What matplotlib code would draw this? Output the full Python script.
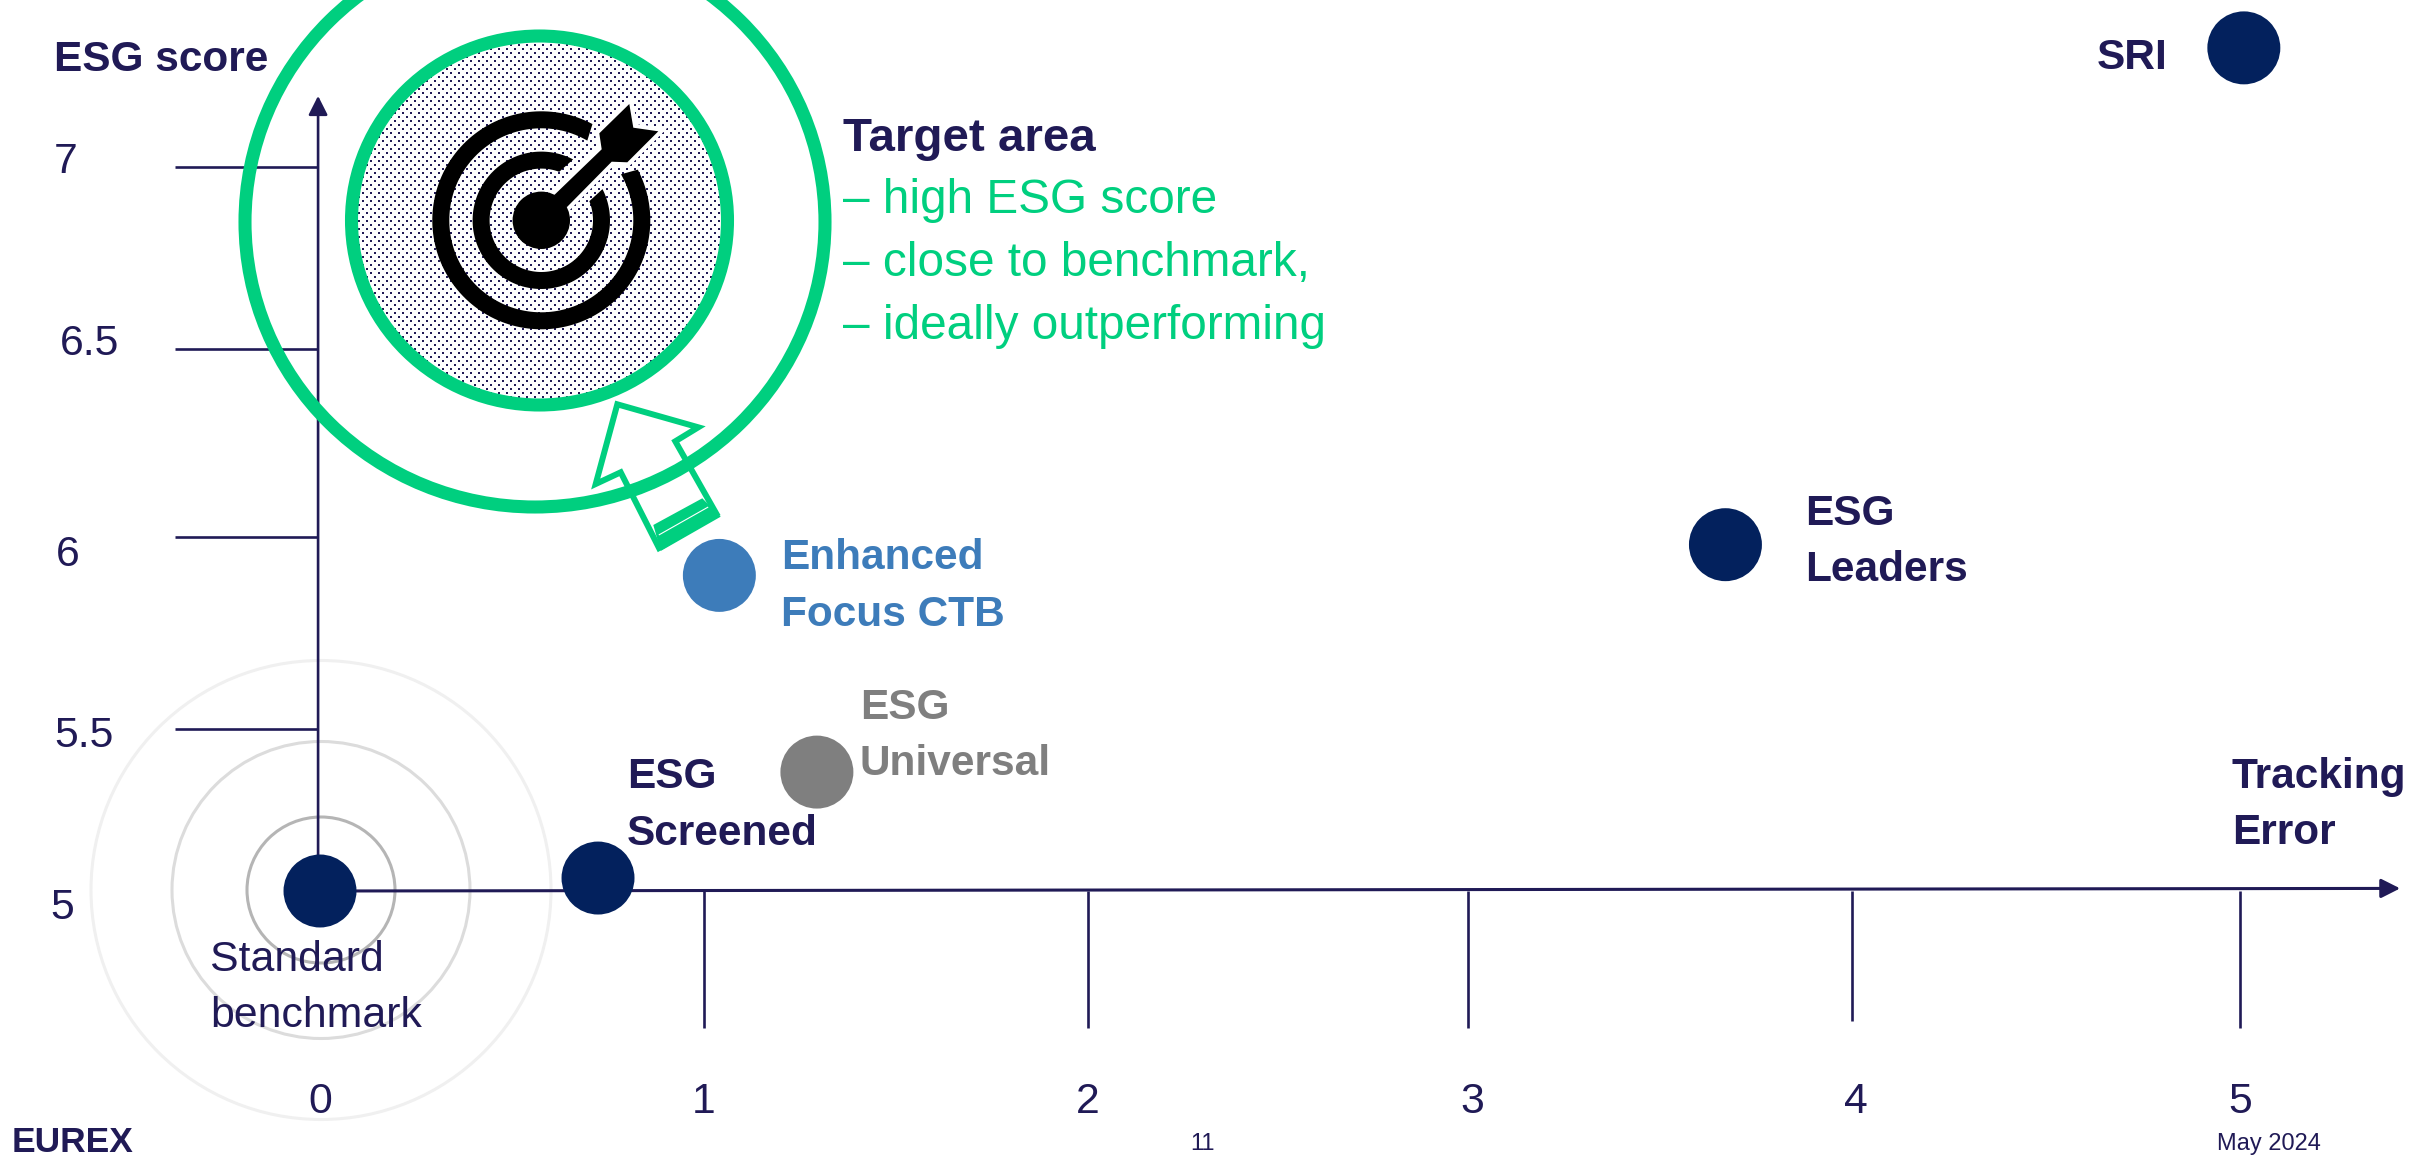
"""
ESG score vs tracking error chart (index positioning)
"""

import numpy as np
import matplotlib
matplotlib.use('Agg')
import matplotlib.pyplot as plt
from matplotlib.patches import Ellipse, Polygon
from matplotlib.transforms import Affine2D

plt.rcParams['font.family'] = ['Liberation Sans', 'DejaVu Sans']

# Data
names = ['Standard benchmark', 'ESG Screened', 'Enhanced Focus CTB', 'ESG Universal', 'ESG Leaders', 'SRI']
tracking_error = [0, 0.724, 1.04, 1.294, 3.66, 5.01]
esg_score = [5, 5.04, 5.90, 5.367, 5.98, 7.33]
point_colors = ['#03215d', '#03215d', '#3d7cba', '#7f7f7f', '#03215d', '#03215d']

x_ticks = [1, 2, 2.99, 3.99, 5]
x_tick_ends = [4.62, 4.62, 4.62, 4.64, 4.62]
x_tick_labels = ['0', '1', '2', '3', '4', '5']
x_label_vals = [0, 1, 2, 3, 4, 5]

y_ticks = [5.5, 6, 6.5, 7]
y_tick_labels = ['5', '5.5', '6', '6.5', '7']

# The slide's y axis is hand spaced, so the scale follows its tick positions
y_knots = [4, 5, 5.5, 6, 6.5, 7, 8]
y_knot_px = [1252, 891, 729, 537, 349, 167, -194]

# Colours
NAVY = '#201a56'
GREEN = '#00cf7f'
BLUE = '#3d7cba'
GRAY = '#7f7f7f'

W, H = 2425, 1156
DPI = 100


def y_forward(y):
    return np.interp(y, y_knots, -np.array(y_knot_px, dtype=float))


def y_inverse(v):
    return np.interp(v, -np.array(y_knot_px, dtype=float), y_knots)


fig = plt.figure(figsize=(W / DPI, H / DPI), dpi=DPI, facecolor='white')
ax = fig.add_axes([0, 0, 1, 1])
ax.set_yscale('function', functions=(y_forward, y_inverse))
ax.set_xlim(-320 / 384, (W - 320) / 384)
ax.set_ylim(y_inverse(-H), y_inverse(0))
ax.axis('off')

# pixel transform for the decorations (image coords, y down)
px = Affine2D().scale(1, -1).translate(0, H)


def label(x, y, s, **kw):
    kw.setdefault('color', NAVY)
    kw.setdefault('fontsize', 30.5 if kw.get('fontweight') == 'bold' else 30.8)
    ax.text(x, y, s, transform=px, va='baseline', **kw)


def broken_ring(cx, cy, r_out, r_in, gap_out, gap_in):
    # ring with a gap; angles in degrees, counter-clockwise as seen on the image
    a_out = np.radians(np.linspace(gap_out[1], gap_out[0] + 360, 160))
    a_in = np.radians(np.linspace(gap_in[0] + 360, gap_in[1], 160))
    xs = np.r_[cx + r_out * np.cos(a_out), cx + r_in * np.cos(a_in)]
    ys = np.r_[cy - r_out * np.sin(a_out), cy - r_in * np.sin(a_in)]
    return Polygon(np.c_[xs, ys], closed=True, fc='black', ec='none', transform=px, zorder=4)


# Grey rings round the benchmark
for w, h, c in [(460, 459, '#f0f0f0'), (298, 297, '#dcdcdc'), (148, 146, '#b5b5b5')]:
    ax.add_patch(Ellipse((321, 890), w, h, fill=False, ec=c, lw=2.2, transform=px, zorder=1))

# Axes and ticks
ax.vlines(x_ticks, 5, x_tick_ends, color=NAVY, lw=1.9, zorder=2)
ax.hlines(y_ticks, -0.378, -0.005, color=NAVY, lw=1.9, zorder=2)
arrow_style = '-|>,head_length=11.5,head_width=5.8'
ax.annotate('', xy=(-0.005, 7.197), xytext=(-0.005, 5), zorder=2,
            arrowprops=dict(arrowstyle=arrow_style, mutation_scale=1, color=NAVY, lw=1.9,
                            shrinkA=0, shrinkB=0))
ax.annotate('', xy=(5.417, 5.008), xytext=(0, 5), zorder=2,
            arrowprops=dict(arrowstyle=arrow_style, mutation_scale=1, color=NAVY, lw=2.2,
                            shrinkA=0, shrinkB=0))

# Target area: outer ring, dotted disc, inner ring
ax.add_patch(Ellipse((535, 222), 580, 570, fill=False, ec=GREEN, lw=9.4, transform=px, zorder=3))
disc = Ellipse((539.5, 220.5), 377, 370, fc='white', ec='none', transform=px, zorder=3)
ax.add_patch(disc)
gx, gy = np.meshgrid(np.arange(334.7, 750, 8), np.arange(12.7, 430, 8))
dots_a = ax.scatter(gx.ravel(), gy.ravel(), s=2.1, marker='s', c=NAVY, linewidths=0, transform=px, zorder=3.1)
dots_b = ax.scatter(gx.ravel() + 4, gy.ravel() + 4, s=2.1, marker='s', c=NAVY, linewidths=0, transform=px, zorder=3.1)
dots_a.set_clip_path(disc)
dots_b.set_clip_path(disc)
ax.add_patch(Ellipse((539.5, 220.5), 376, 369, fill=False, ec=GREEN, lw=9.4, transform=px, zorder=3.2))

# Bullseye icon
dart = [(554.3, 195), (601.7, 149.3), (599.3, 133.3), (629.3, 104), (633.3, 127.7), (658.3, 131.3),
        (627.3, 162.3), (611.7, 161.7), (566.7, 207.3)]
ax.add_patch(Polygon(dart, closed=True, fc='white', ec='white', lw=6, transform=px, zorder=3.5))
ax.add_patch(Polygon(dart, closed=True, fc='black', ec='none', transform=px, zorder=4))
cx, cy = 541.3, 220.3
ax.add_patch(Ellipse((cx, cy), 57.4, 57.4, fc='black', ec='none', transform=px, zorder=4))
ax.add_patch(broken_ring(cx, cy, 68.7, 51.7, (27, 62.4), (21.7, 69.7)))
ax.add_patch(broken_ring(cx, cy, 109, 92, (27.7, 62), (30, 60)))

# Green outline arrow
outline = [(617.3, 404.3), (698.3, 427.3), (675.3, 441.3), (716.5, 514), (659, 548),
           (620.7, 472.3), (595.7, 484)]
ax.add_patch(Polygon(outline, closed=True, fill=False, ec=GREEN, lw=4.3, joinstyle='miter', transform=px, zorder=5))
band = [(653.3, 525), (702.3, 498.3), (720.7, 516.7), (660.7, 551)]
ax.add_patch(Polygon(band, closed=True, fc=GREEN, ec='none', transform=px, zorder=5))
ax.plot([659.3, 707.7], [534.7, 507.3], color='white', lw=0.8, transform=px, zorder=5.1)

# Points
ax.scatter(tracking_error, esg_score, s=2760, c=point_colors, linewidths=0, zorder=6)

# Tick labels (placed by hand on the slide)
for val, s in zip(x_label_vals, x_tick_labels):
    label(320 + 384 * val, 1113, s, ha='center')
for s, x, y in zip(y_tick_labels, [62, 84, 68, 90, 66], [919, 747, 566, 355, 173]):
    label(x, y, s, ha='center')

# Text
label(54, 71, 'ESG score', fontweight='bold')
label(843, 151, 'Target area', fontweight='bold', fontsize=34.2)
label(843, 213, '– high ESG score', color=GREEN, fontsize=34.4)
label(843, 276, '– close to benchmark,', color=GREEN, fontsize=34.4)
label(843, 339, '– ideally outperforming', color=GREEN, fontsize=34.4)
label(781, 569, 'Enhanced', color=BLUE, fontweight='bold')
label(781, 626, 'Focus CTB', color=BLUE, fontweight='bold')
label(860, 719, 'ESG', color=GRAY, fontweight='bold')
label(860, 775, 'Universal', color=GRAY, fontweight='bold')
label(627, 788, 'ESG', fontweight='bold')
label(627, 845, 'Screened', fontweight='bold')
label(1805, 525, 'ESG', fontweight='bold')
label(1805, 581, 'Leaders', fontweight='bold')
label(2097, 69, 'SRI', fontweight='bold')
label(2232, 788, 'Tracking', fontweight='bold')
label(2232, 844, 'Error', fontweight='bold')
label(210, 971, 'Standard')
label(210, 1027, 'benchmark')
label(12, 1152, 'EUREX', fontweight='bold', fontsize=25.5)
label(1202, 1150, '11', fontsize=17, ha='center')
label(2217, 1150, 'May 2024', fontsize=17)

fig.savefig('out.png', dpi=DPI)
plt.close()
